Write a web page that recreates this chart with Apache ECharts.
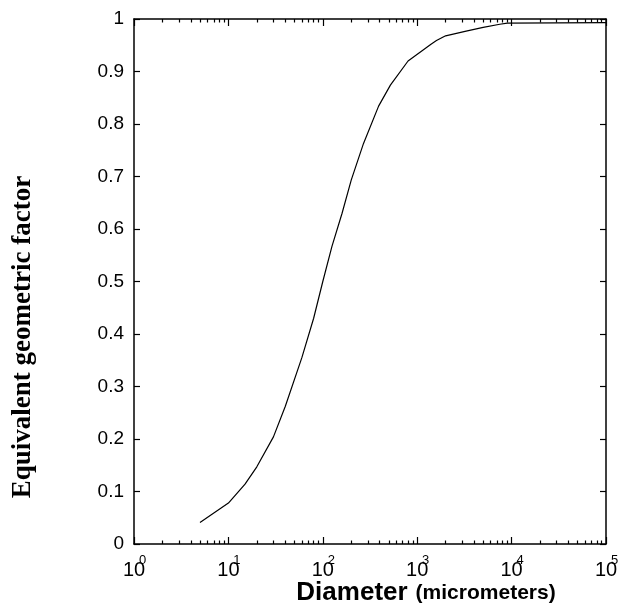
<!DOCTYPE html>
<html>
<head>
<meta charset="utf-8">
<script src="https://cdn.jsdelivr.net/npm/echarts@6/dist/echarts.min.js"></script>
<style>
html,body{margin:0;padding:0;background:#fff;}
#chart{width:622px;height:613px;}
</style>
</head>
<body>
<div id="chart"></div>
<script>
// Data
const diameters = [5, 10, 15, 20, 30, 40, 60, 80, 100, 125, 160, 200, 270, 390, 520, 800, 1400, 1600, 2000, 3300, 5000, 7500, 9000, 100000];
const factors   = [0.041, 0.078, 0.114, 0.147, 0.204, 0.262, 0.355, 0.43, 0.50, 0.567, 0.63, 0.693, 0.763, 0.834, 0.874, 0.92, 0.952, 0.959, 0.968, 0.977, 0.984, 0.99, 0.992, 0.993];
const xExponents = [0, 1, 2, 3, 4, 5];
const yTitle = 'Equivalent geometric factor';
const xTitle = 'Diameter';
const xUnit = '(micrometers)';

const majorTicks = xExponents.map(e => Math.pow(10, e));
const minorTicks = [];
for (let e = 0; e < xExponents.length - 1; e++) {
  for (let k = 2; k <= 9; k++) minorTicks.push(k * Math.pow(10, e));
}

const black = '#000';
const sans = '"Liberation Sans", Arial, sans-serif';

function logAxis(pos, ticks, tickLen, showLine, label) {
  return {
    type: 'log', logBase: 10, position: pos, min: 1, max: 100000,
    axisLine: { show: showLine, lineStyle: { color: black, width: 1.5 } },
    axisTick: { show: true, inside: true, length: tickLen, customValues: ticks, lineStyle: { color: black, width: 1.2 } },
    axisLabel: label || { show: false },
    splitLine: { show: false },
    minorTick: { show: false }
  };
}

const chart = echarts.init(document.getElementById('chart'), null, { renderer: 'canvas' });
const option = {
  animation: false,
  backgroundColor: '#fff',
  grid: { left: 134, right: 16, top: 19, bottom: 69, containLabel: false },
  xAxis: [
    logAxis('bottom', majorTicks, 7, true, {
      show: true, customValues: majorTicks, margin: 16, fontSize: 20, color: black, fontFamily: sans,
      formatter: () => '10'
    }),
    logAxis('bottom', minorTicks, 3.5, false, {
      show: true, customValues: majorTicks, margin: 10, fontSize: 13, color: black, fontFamily: sans,
      padding: [0, 0, 0, 17],
      formatter: v => String(Math.round(Math.log10(v)))
    }),
    logAxis('top', majorTicks, 7, true, null),
    logAxis('top', minorTicks, 3.5, false, null)
  ],
  yAxis: [
    {
      type: 'value', position: 'left', min: 0, max: 1, interval: 0.1,
      axisLine: { show: true, lineStyle: { color: black, width: 1.5 } },
      axisTick: { show: true, inside: true, length: 6, lineStyle: { color: black, width: 1.2 } },
      axisLabel: {
        show: true, margin: 10, fontSize: 19, color: black, fontFamily: sans,
        formatter: v => (v === 0 ? '0' : (Math.abs(v - 1) < 1e-9 ? '1' : v.toFixed(1)))
      },
      splitLine: { show: false }
    },
    {
      type: 'value', position: 'right', min: 0, max: 1, interval: 0.1,
      axisLine: { show: true, lineStyle: { color: black, width: 1.5 } },
      axisTick: { show: true, inside: true, length: 6, lineStyle: { color: black, width: 1.2 } },
      axisLabel: { show: false },
      splitLine: { show: false }
    }
  ],
  series: [{
    type: 'line', xAxisIndex: 0, yAxisIndex: 0,
    data: diameters.map((d, i) => [d, factors[i]]),
    showSymbol: false, smooth: false,
    lineStyle: { color: black, width: 1.2 }
  }],
  graphic: [
    {
      type: 'text', x: 23, y: 337, rotation: Math.PI / 2,
      style: { text: yTitle, font: 'bold 27px "Liberation Serif", "Times New Roman", serif', fill: black, align: 'center', verticalAlign: 'middle' }
    },
    {
      type: 'text', x: 426, y: 593,
      style: {
        text: '{a|' + xTitle + '}{b|' + xUnit + '}',
        align: 'center', verticalAlign: 'middle', fill: black,
        rich: {
          a: { font: 'bold 26px ' + sans, fill: black },
          b: { font: 'bold 21px ' + sans, fill: black, padding: [0, 0, 0, 8] }
        }
      }
    }
  ]
};
chart.setOption(option);
</script>
</body>
</html>
